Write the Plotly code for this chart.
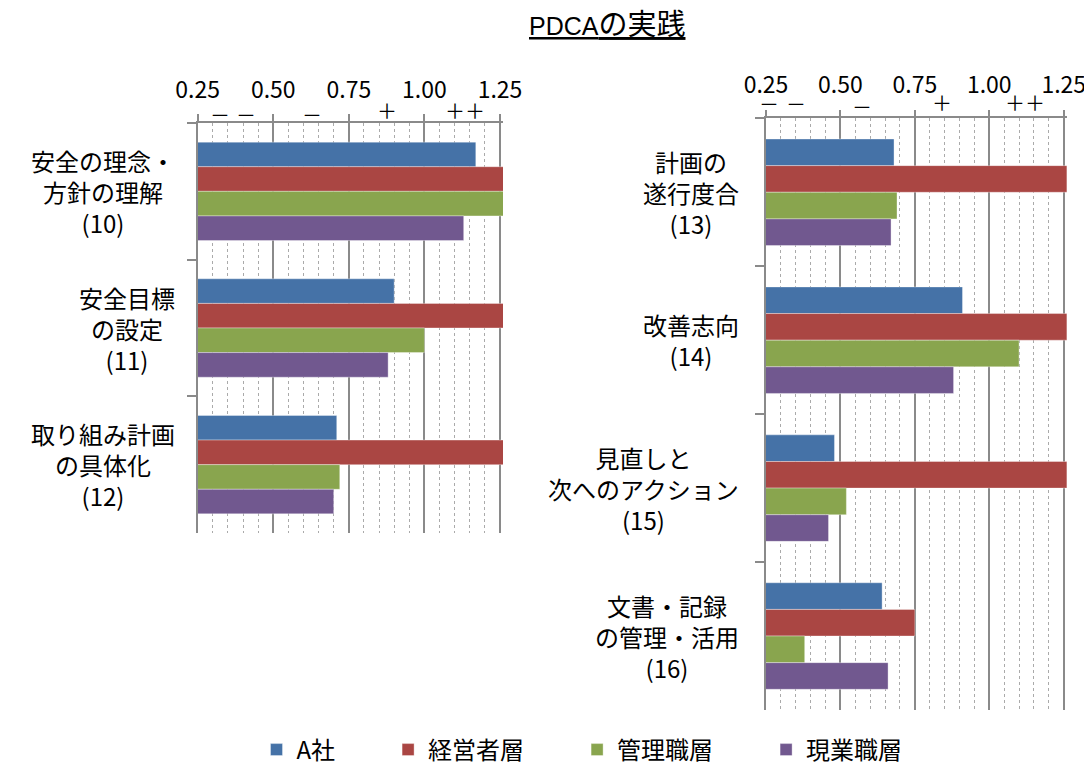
import plotly.graph_objects as go

# ---------------- data ----------------
left_categories = [
    "安全の理念・<br>方針の理解<br>(10)",
    "安全目標<br>の設定<br>(11)",
    "取り組み計画<br>の具体化<br>(12)",
]
right_categories = [
    "計画の<br>遂行度合<br>(13)",
    "改善志向<br>(14)",
    "見直しと<br>次へのアクション<br>(15)",
    "文書・記録<br>の管理・活用<br>(16)",
]
series_names = ["A社", "経営者層", "管理職層", "現業職層"]
left_values = {
    "A社":     [1.17, 0.90, 0.71],
    "経営者層": [1.30, 1.30, 1.30],
    "管理職層": [1.30, 1.00, 0.72],
    "現業職層": [1.13, 0.88, 0.70],
}
right_values = {
    "A社":     [0.68, 0.91, 0.48, 0.64],
    "経営者層": [1.30, 1.30, 1.30, 0.75],
    "管理職層": [0.69, 1.10, 0.52, 0.38],
    "現業職層": [0.67, 0.88, 0.46, 0.66],
}
colors = ["#4572A7", "#AA4643", "#89A54E", "#71588F"]
tick_values = [0.25, 0.50, 0.75, 1.00, 1.25]
tick_labels = ["0.25", "0.50", "0.75", "1.00", "1.25"]
# trailing ideographic spaces only widen the legend entries (invisible)
legend_names = ["A社　　", "経営者層　　", "管理職層　　", "現業職層"]

# rating symbols (zones) shown under the tick labels
left_symbols = [("－", 0.325), ("－", 0.411), ("－", 0.627), ("＋", 0.876), ("＋＋", 1.135)]
right_symbols = [("－", 0.26), ("－", 0.351), ("－", 0.573), ("＋", 0.842), ("＋＋", 1.121)]

title_text = ("<span style='font-family:Liberation Sans;font-size:25px'>PDCA</span>"
              "<span style='font-size:29px'>の実践</span>")
FONT = "Noto Sans CJK JP"
W, H = 1084, 767

fig = go.Figure()
for i, name in enumerate(series_names):
    fig.add_trace(go.Bar(
        x=left_values[name], y=left_categories, orientation="h",
        name=legend_names[i], legendgroup=name, marker_color=colors[i],
        marker_line=dict(width=0.6, color="rgba(255,255,255,0.6)"),
        xaxis="x", yaxis="y", showlegend=True,
    ))
for i, name in enumerate(series_names):
    fig.add_trace(go.Bar(
        x=right_values[name], y=right_categories, orientation="h",
        name=legend_names[i], legendgroup=name, marker_color=colors[i],
        marker_line=dict(width=0.6, color="rgba(255,255,255,0.6)"),
        xaxis="x2", yaxis="y2", showlegend=False,
    ))

def px_x(p):
    return p / W

def px_y(p):
    return 1 - p / H

xaxis_common = dict(
    range=[0.25, 1.26], side="top", tickmode="array",
    tickvals=tick_values, ticktext=tick_labels,
    tickfont=dict(family=FONT, size=23, color="#000"),
    ticks="outside", ticklen=7, tickwidth=1.5, tickcolor="#8a8a8a",
    showline=True, linecolor="#8a8a8a", linewidth=1.5,
    showgrid=True, gridcolor="#8a8a8a", gridwidth=1.5,
    minor=dict(dtick=0.05, tick0=0.25, showgrid=True, gridcolor="#aaaaaa",
               griddash="dot", gridwidth=1, ticks=""),
    zeroline=False, fixedrange=True, ticklabelstandoff=7, automargin=False,
    ticklabeloverflow="allow",
)
yaxis_common = dict(
    autorange="reversed", showticklabels=False,
    ticks="outside", ticklen=9, tickwidth=1.5, tickcolor="#8a8a8a",
    tickson="boundaries",
    showline=True, linecolor="#8a8a8a", linewidth=1.5,
    showgrid=False, zeroline=False, fixedrange=True, automargin=False,
)

fig.update_layout(
    width=W, height=H,
    margin=dict(l=0, r=0, t=0, b=0, autoexpand=False),
    paper_bgcolor="white", plot_bgcolor="white",
    barmode="group", bargap=0.28, bargroupgap=0,
    xaxis=dict(domain=[px_x(197.7), px_x(503)], anchor="y", **xaxis_common),
    yaxis=dict(domain=[px_y(533), px_y(123)], anchor="x", **yaxis_common),
    xaxis2=dict(domain=[px_x(766), px_x(1066.7)], anchor="y2", **xaxis_common),
    yaxis2=dict(domain=[px_y(710), px_y(118.3)], anchor="x2", **yaxis_common),
    legend=dict(orientation="h", x=px_x(582), xanchor="center",
                y=px_y(750), yanchor="middle",
                font=dict(family=FONT, size=24, color="#000"),
                itemclick=False, itemdoubleclick=False,
                bgcolor="rgba(0,0,0,0)"),
    font=dict(family=FONT, color="#000"),
    showlegend=True,
)

annotations = []
annotations.append(dict(
    text="<u>" + title_text + "</u>", x=px_x(606.5), y=px_y(22),
    xref="paper", yref="paper", xanchor="center", yanchor="middle",
    showarrow=False, font=dict(family=FONT, size=25, color="#000"),
))
for cat in left_categories:
    annotations.append(dict(
        text=cat, x=px_x(177), y=cat, xref="paper", yref="y",
        xanchor="right", yanchor="middle", align="center", showarrow=False,
        font=dict(family=FONT, size=24, color="#000"),
    ))
for cat in right_categories:
    annotations.append(dict(
        text=cat, x=px_x(741), y=cat, xref="paper", yref="y2",
        xanchor="right", yanchor="middle", align="center", showarrow=False,
        font=dict(family=FONT, size=24, color="#000"),
    ))
for sym, xv in left_symbols:
    ypix = 115 if sym == "－" else 111
    annotations.append(dict(
        text=sym, x=xv, y=px_y(ypix), xref="x", yref="paper",
        xanchor="center", yanchor="middle", showarrow=False,
        font=dict(family=FONT, size=20, color="#000"),
    ))
for i, (sym, xv) in enumerate(right_symbols):
    ypix = (104 if i < 2 else 106) if sym == "－" else 102
    annotations.append(dict(
        text=sym, x=xv, y=px_y(ypix), xref="x2", yref="paper",
        xanchor="center", yanchor="middle", showarrow=False,
        font=dict(family=FONT, size=20, color="#000"),
    ))
fig.update_layout(annotations=annotations)

fig.write_html(
    "out.html",
    config={"displayModeBar": False},
    post_script="document.body.style.margin='0';document.body.style.padding='0';",
)
